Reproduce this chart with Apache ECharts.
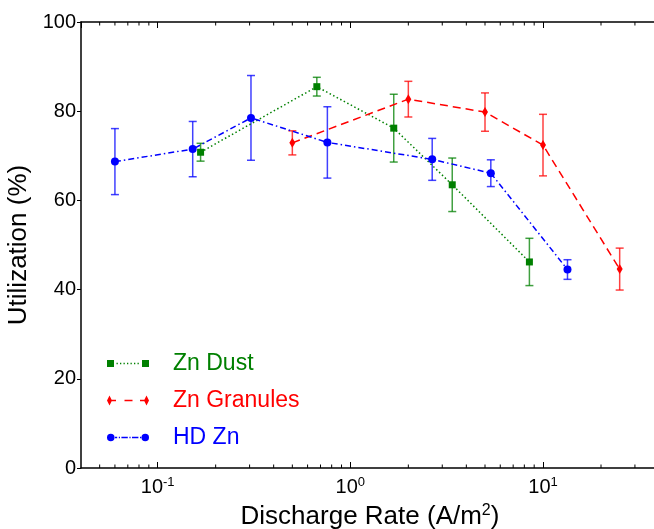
<!DOCTYPE html>
<html>
<head>
<meta charset="utf-8">
<script src="https://cdn.jsdelivr.net/npm/echarts@6/dist/echarts.min.js"></script>
<style>
html,body{margin:0;padding:0;background:#fff;}
#chart{width:654px;height:529px;}
</style>
</head>
<body>
<div id="chart"></div>
<script>
// ---- data ----
const seriesNames = ['Zn Dust', 'Zn Granules', 'HD Zn'];

const znDustX   = [0.167, 0.67, 1.68, 3.38, 8.5];
const znDustY   = [70.8, 85.5, 76.2, 63.5, 46.2];
const znDustErr = [2.0, 2.1, 7.6, 6.0, 5.3];

const znGranX   = [0.5, 2.0, 5.0, 10.0, 25.0];
const znGranY   = [72.9, 82.7, 79.8, 72.4, 44.6];
const znGranErr = [2.7, 4.0, 4.3, 6.9, 4.7];

const hdZnX   = [0.06, 0.152, 0.305, 0.76, 2.66, 5.36, 13.4];
const hdZnY   = [68.7, 71.5, 78.5, 73.0, 69.2, 66.1, 44.5];
const hdZnErr = [7.4, 6.2, 9.5, 8.0, 4.7, 3.0, 2.2];

const yTicks = [0, 20, 40, 60, 80, 100];
const minorTickValues = [0.05,0.06,0.07,0.08,0.09,0.2,0.3,0.4,0.5,0.6,0.7,0.8,0.9,2,3,4,5,6,7,8,9,20,30];

// ---- build ----
const FONT = 'Liberation Sans';
const GREEN = '#008000', RED = '#ff0000', BLUE = '#0000ff';

function pts(xs, ys) { return xs.map((x, i) => [x, ys[i]]); }
function errs(xs, ys, es) { return xs.map((x, i) => [x, ys[i] - es[i], ys[i] + es[i]]); }

function errSeries(data, color) {
  return {
    type: 'custom',
    silent: true,
    z: 1,
    encode: { x: 0, y: [1, 2] },
    data: data,
    renderItem: function (params, api) {
      const x = api.value(0);
      const lo = api.coord([x, api.value(1)]);
      const hi = api.coord([x, api.value(2)]);
      const hw = 4;
      const st = { stroke: color, lineWidth: 1.5, opacity: 0.75 };
      return {
        type: 'group',
        children: [
          { type: 'line', shape: { x1: lo[0], y1: lo[1], x2: hi[0], y2: hi[1] }, style: st },
          { type: 'line', shape: { x1: lo[0] - hw, y1: lo[1], x2: lo[0] + hw, y2: lo[1] }, style: st },
          { type: 'line', shape: { x1: hi[0] - hw, y1: hi[1], x2: hi[0] + hw, y2: hi[1] }, style: st }
        ]
      };
    }
  };
}

const minorTickSeries = {
  type: 'custom',
  silent: true,
  z: 5,
  data: minorTickValues.map(v => [v]),
  encode: { x: 0 },
  renderItem: function (params, api) {
    const x = api.value(0);
    const b = api.coord([x, yTicks[0]]);
    const t = api.coord([x, yTicks[yTicks.length - 1]]);
    const st = { stroke: '#000', lineWidth: 1 };
    return {
      type: 'group',
      children: [
        { type: 'line', shape: { x1: b[0], y1: b[1], x2: b[0], y2: b[1] - 3.5 }, style: st },
        { type: 'line', shape: { x1: t[0], y1: t[1], x2: t[0], y2: t[1] + 3.5 }, style: st }
      ]
    };
  }
};

function powLabel(v) {
  const e = Math.round(Math.log10(v));
  if (Math.abs(v - Math.pow(10, e)) / v > 1e-6) return '';
  return '{b|10}{s|' + e + '}';
}

// legend icons: marker - line style - marker (matplotlib-like)
function sq(x, y, w, h) { return 'M' + x + ' ' + y + 'h' + w + 'v' + h + 'h' + (-w) + 'z'; }
function circ(cx, cy, r) { return 'M' + (cx - r) + ' ' + cy + 'a' + r + ' ' + r + ' 0 1 0 ' + (2 * r) + ' 0a' + r + ' ' + r + ' 0 1 0 ' + (-2 * r) + ' 0z'; }
const iconDust = 'path://' + [sq(0, 0, 7, 7), sq(35, 0, 7, 7),
  sq(9.5, 2.85, 1.3, 1.3), sq(13, 2.85, 1.3, 1.3), sq(16.5, 2.85, 1.3, 1.3), sq(20, 2.85, 1.3, 1.3),
  sq(23.5, 2.85, 1.3, 1.3), sq(27, 2.85, 1.3, 1.3), sq(30.5, 2.85, 1.3, 1.3)].join(' ');
const iconGran = 'path://M2.5 0L5 5L2.5 10L0 5Z M39.5 0L42 5L39.5 10L37 5Z ' +
  [sq(4.5, 4.3, 4.5, 1.4), sq(17.5, 4.3, 8, 1.4), sq(33, 4.3, 4.5, 1.4)].join(' ');
const iconHd = 'path://' + [circ(3.75, 3.75, 3.75), circ(38.25, 3.75, 3.75),
  sq(7, 3.1, 3.2, 1.3), sq(11.8, 3.1, 1.2, 1.3), sq(14.4, 3.1, 6.4, 1.3), sq(22.4, 3.1, 1.2, 1.3),
  sq(25, 3.1, 6.4, 1.3), sq(33, 3.1, 1.2, 1.3)].join(' ');

const axisCommon = {
  type: 'log',
  logBase: 10,
  min: 0.04,
  max: 40,
  splitLine: { show: false },
  axisLine: { show: true, lineStyle: { color: '#000', width: 1.5 } },
  axisTick: { show: true, inside: true, length: 6, lineStyle: { color: '#000', width: 1 } },
  minorTick: { show: false }
};

const option = {
  animation: false,
  backgroundColor: '#fff',
  textStyle: { fontFamily: FONT },
  grid: { left: 81, right: -5, top: 22, bottom: 61, containLabel: false, outerBoundsMode: 'none' },
  legend: {
    orient: 'vertical',
    left: 107,
    top: 352,
    padding: 0,
    itemWidth: 42,
    itemHeight: 10,
    itemGap: 14,
    symbolKeepAspect: true,
    itemStyle: { borderWidth: 0 },
    textStyle: { fontSize: 23, lineHeight: 23, fontFamily: FONT, padding: [0, 0, 0, 19] },
    data: [
      { name: seriesNames[0], icon: iconDust, textStyle: { color: GREEN } },
      { name: seriesNames[1], icon: iconGran, textStyle: { color: RED } },
      { name: seriesNames[2], icon: iconHd, textStyle: { color: BLUE } }
    ]
  },
  xAxis: [
    Object.assign({}, axisCommon, {
      position: 'bottom',
      name: '{a|Discharge Rate (A/m}{s|2}{a|)}',
      nameLocation: 'middle',
      nameGap: 35,
      nameTextStyle: {
        rich: {
          a: { fontSize: 26, fontFamily: FONT, color: '#000', lineHeight: 28 },
          s: { fontSize: 16, fontFamily: FONT, color: '#000', verticalAlign: 'top', lineHeight: 28 }
        }
      },
      axisLabel: {
        margin: 8,
        formatter: powLabel,
        showMinLabel: false,
        showMaxLabel: false,
        rich: {
          b: { fontSize: 20, fontFamily: FONT, color: '#000', lineHeight: 22 },
          s: { fontSize: 13, fontFamily: FONT, color: '#000', verticalAlign: 'top', lineHeight: 22 }
        }
      }
    }),
    Object.assign({}, axisCommon, {
      position: 'top',
      axisLabel: { show: false }
    })
  ],
  yAxis: {
    type: 'value',
    min: yTicks[0],
    max: yTicks[yTicks.length - 1],
    interval: 20,
    splitLine: { show: false },
    axisLine: { show: true, lineStyle: { color: '#000', width: 1.5 } },
    axisTick: { show: true, inside: false, length: 4, lineStyle: { color: '#000', width: 1 } },
    axisLabel: { fontSize: 20, fontFamily: FONT, color: '#000', margin: 5 },
    name: 'Utilization (%)',
    nameLocation: 'middle',
    nameGap: 43,
    nameTextStyle: { fontSize: 26, fontFamily: FONT, color: '#000' }
  },
  series: [
    minorTickSeries,
    errSeries(errs(znDustX, znDustY, znDustErr), GREEN),
    errSeries(errs(znGranX, znGranY, znGranErr), RED),
    errSeries(errs(hdZnX, hdZnY, hdZnErr), BLUE),
    {
      name: seriesNames[0], type: 'line', z: 3,
      data: pts(znDustX, znDustY),
      symbol: 'rect', symbolSize: 7,
      itemStyle: { color: GREEN },
      lineStyle: { color: GREEN, width: 1.5, type: [1.5, 2.5] }
    },
    {
      name: seriesNames[1], type: 'line', z: 3,
      data: pts(znGranX, znGranY),
      symbol: 'diamond', symbolSize: [6, 10],
      itemStyle: { color: RED },
      lineStyle: { color: RED, width: 1.5, type: [8, 5] }
    },
    {
      name: seriesNames[2], type: 'line', z: 3,
      data: pts(hdZnX, hdZnY),
      symbol: 'circle', symbolSize: 8,
      itemStyle: { color: BLUE },
      lineStyle: { color: BLUE, width: 1.5, type: [6, 3, 1.5, 3] }
    }
  ]
};

const chart = echarts.init(document.getElementById('chart'), null, { renderer: 'canvas' });
chart.setOption(option);
</script>
</body>
</html>
